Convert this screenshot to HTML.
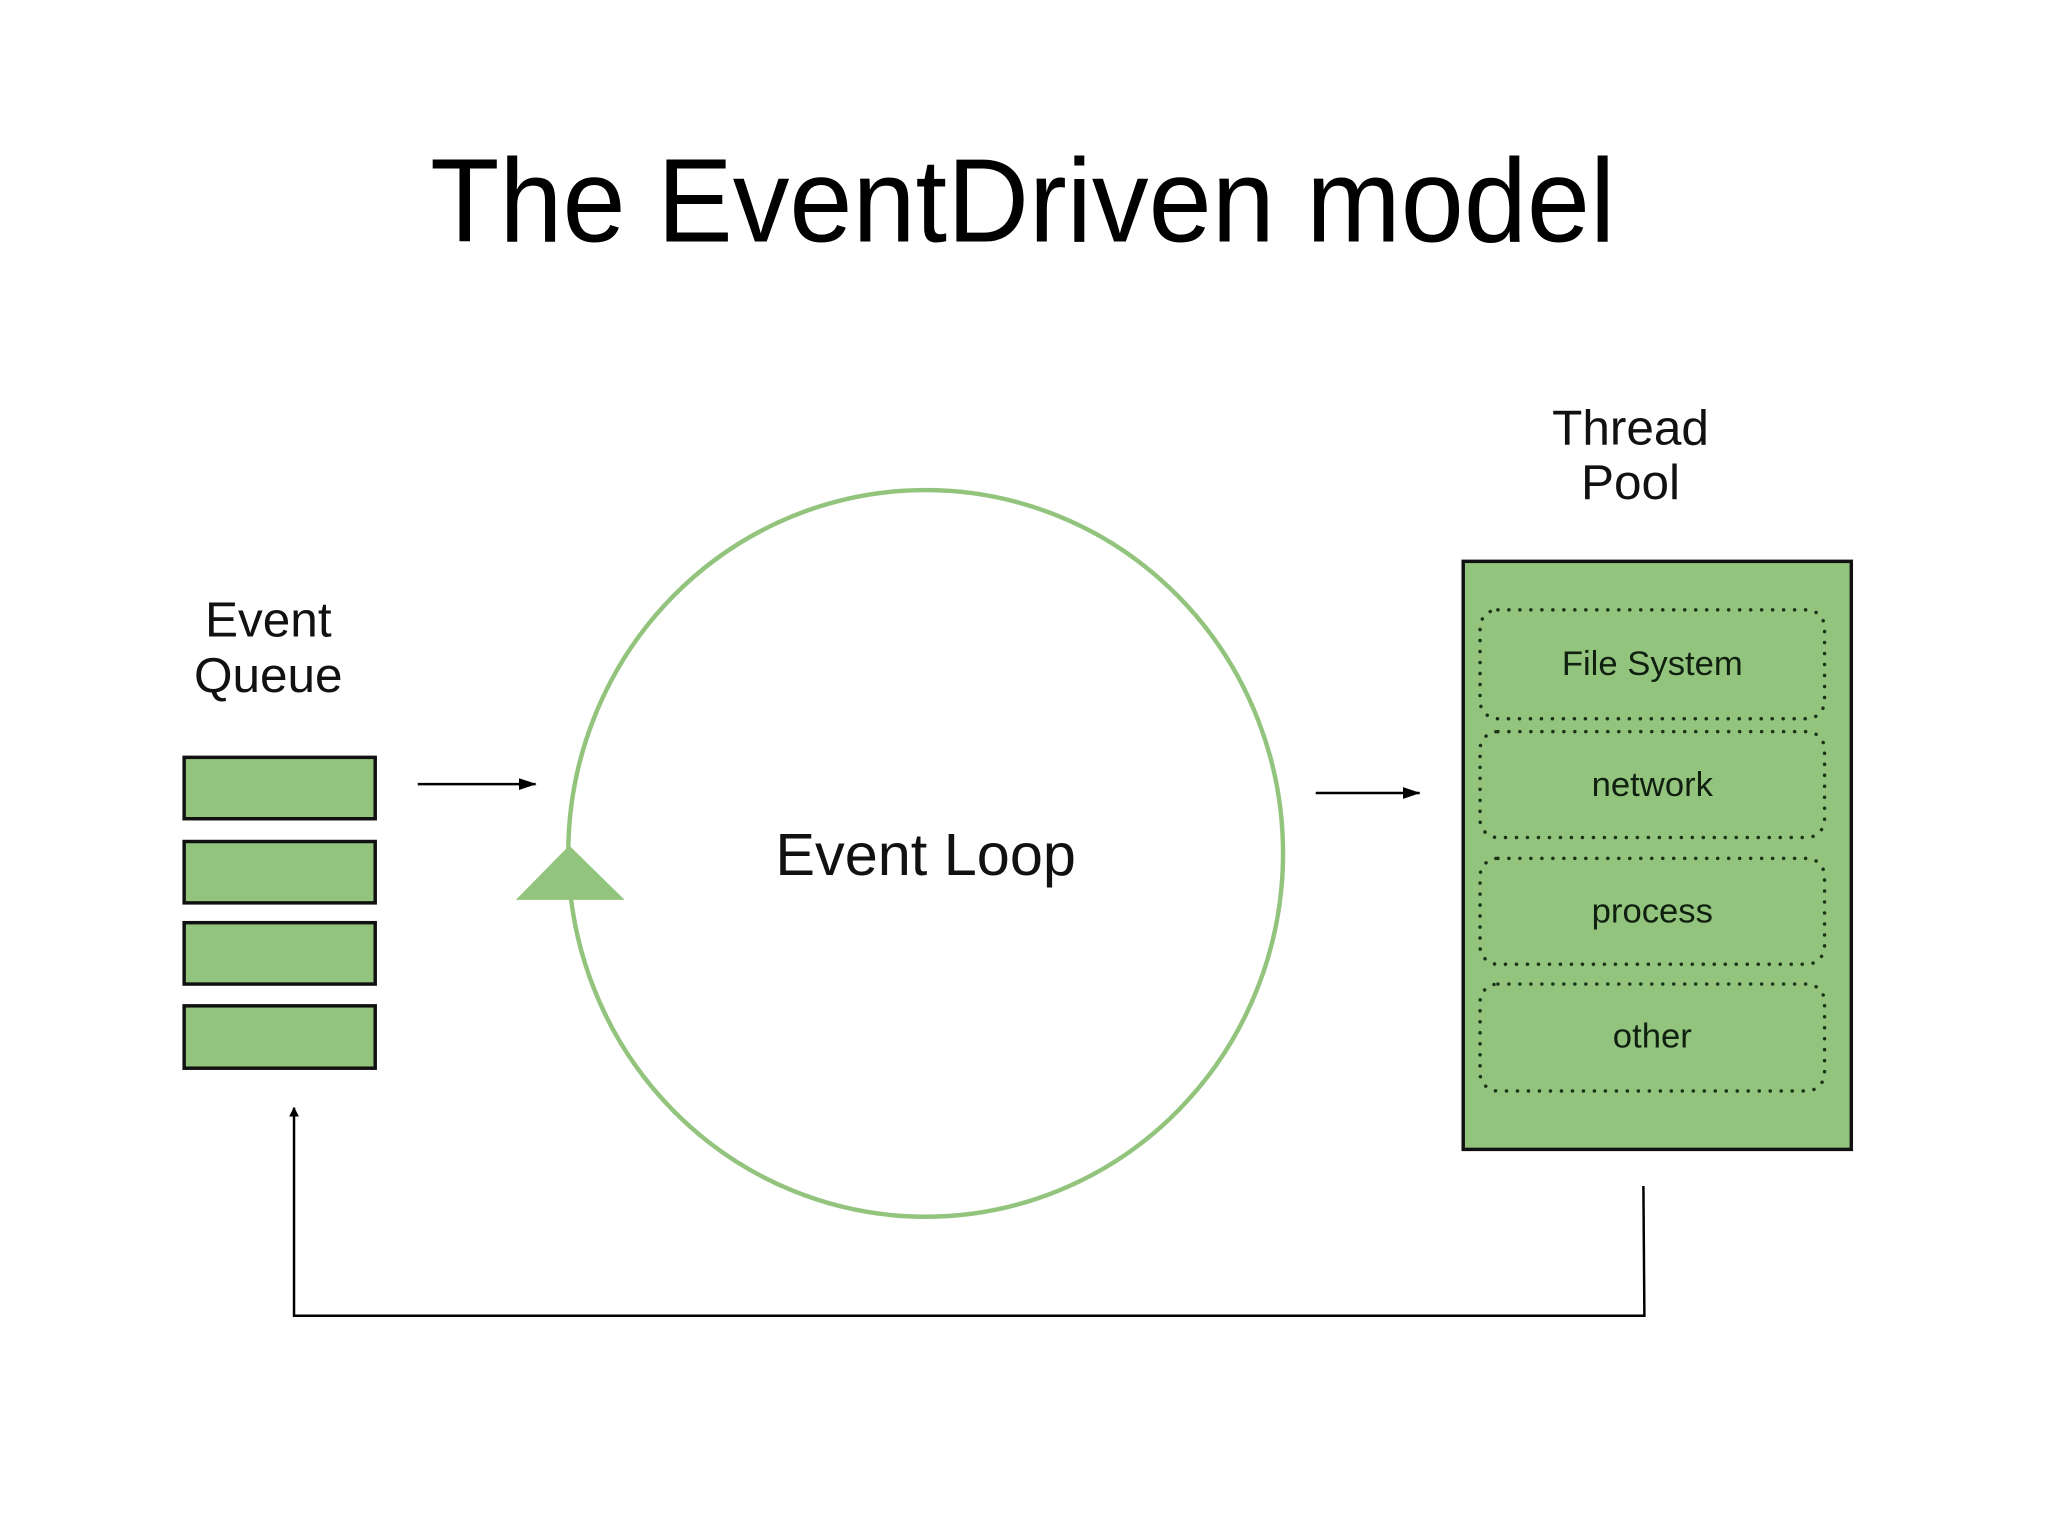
<!DOCTYPE html>
<html><head><meta charset="utf-8"><style>
html,body{margin:0;padding:0;background:#fff;width:2048px;height:1536px;overflow:hidden}
svg{display:block}
</style></head><body>
<svg width="2048" height="1536" viewBox="0 0 2048 1536" xmlns="http://www.w3.org/2000/svg">
<defs>
<marker id="ah" markerWidth="10" markerHeight="10" refX="9" refY="5" orient="auto" markerUnits="userSpaceOnUse">
<path d="M0,0 L10,5 L0,10 Z" fill="#000"/>
</marker>
<marker id="ah2" markerWidth="18" markerHeight="12" refX="17" refY="6" orient="auto" markerUnits="userSpaceOnUse">
<path d="M0,0 L18,6 L0,12 Z" fill="#000"/>
</marker>
</defs>
<g transform="scale(0.99)">
<text x="1033" y="244" text-anchor="middle" font-family="Liberation Sans, sans-serif" font-size="120" textLength="1197" lengthAdjust="spacingAndGlyphs" fill="#000">The EventDriven model</text>

<g font-family="Liberation Sans, sans-serif" fill="#111" text-anchor="middle">
<text x="271" y="643" font-size="50">Event</text>
<text x="271" y="699" font-size="50">Queue</text>
<text x="1647" y="449" font-size="50">Thread</text>
<text x="1647" y="504" font-size="50">Pool</text>
<text x="935" y="884" font-size="60">Event Loop</text>
</g>

<g fill="#93c47d" stroke="#111" stroke-width="3.5">
<rect x="186" y="765" width="193" height="62"/>
<rect x="186" y="850" width="193" height="62"/>
<rect x="186" y="932" width="193" height="62"/>
<rect x="186" y="1016" width="193" height="63"/>
</g>

<line x1="422" y1="792" x2="541" y2="792" stroke="#000" stroke-width="2.5" marker-end="url(#ah2)"/>
<line x1="1329" y1="801" x2="1434" y2="801" stroke="#000" stroke-width="2.5" marker-end="url(#ah2)"/>

<ellipse cx="935" cy="862" rx="361" ry="367" fill="none" stroke="#93c47d" stroke-width="4.5"/>
<polygon points="575,854 521,909 631,909" fill="#93c47d"/>

<rect x="1478" y="567" width="392" height="594" fill="#93c47d" stroke="#111" stroke-width="3.5"/>
<g fill="none" stroke="#1a3318" stroke-width="3.5" stroke-dasharray="0.1 11" stroke-linecap="round">
<rect x="1495" y="616" width="348" height="110" rx="18"/>
<rect x="1495" y="739" width="348" height="107" rx="18"/>
<rect x="1495" y="867" width="348" height="107" rx="18"/>
<rect x="1495" y="994" width="348" height="108" rx="18"/>
</g>
<g font-family="Liberation Sans, sans-serif" fill="#102010" text-anchor="middle" font-size="35">
<text x="1669" y="682">File System</text>
<text x="1669" y="804">network</text>
<text x="1669" y="932">process</text>
<text x="1669" y="1058">other</text>
</g>

<polyline points="1660,1198 1661,1329 297,1329 297,1119" fill="none" stroke="#000" stroke-width="2.5" marker-end="url(#ah)"/>
</g>
</svg>
</body></html>
